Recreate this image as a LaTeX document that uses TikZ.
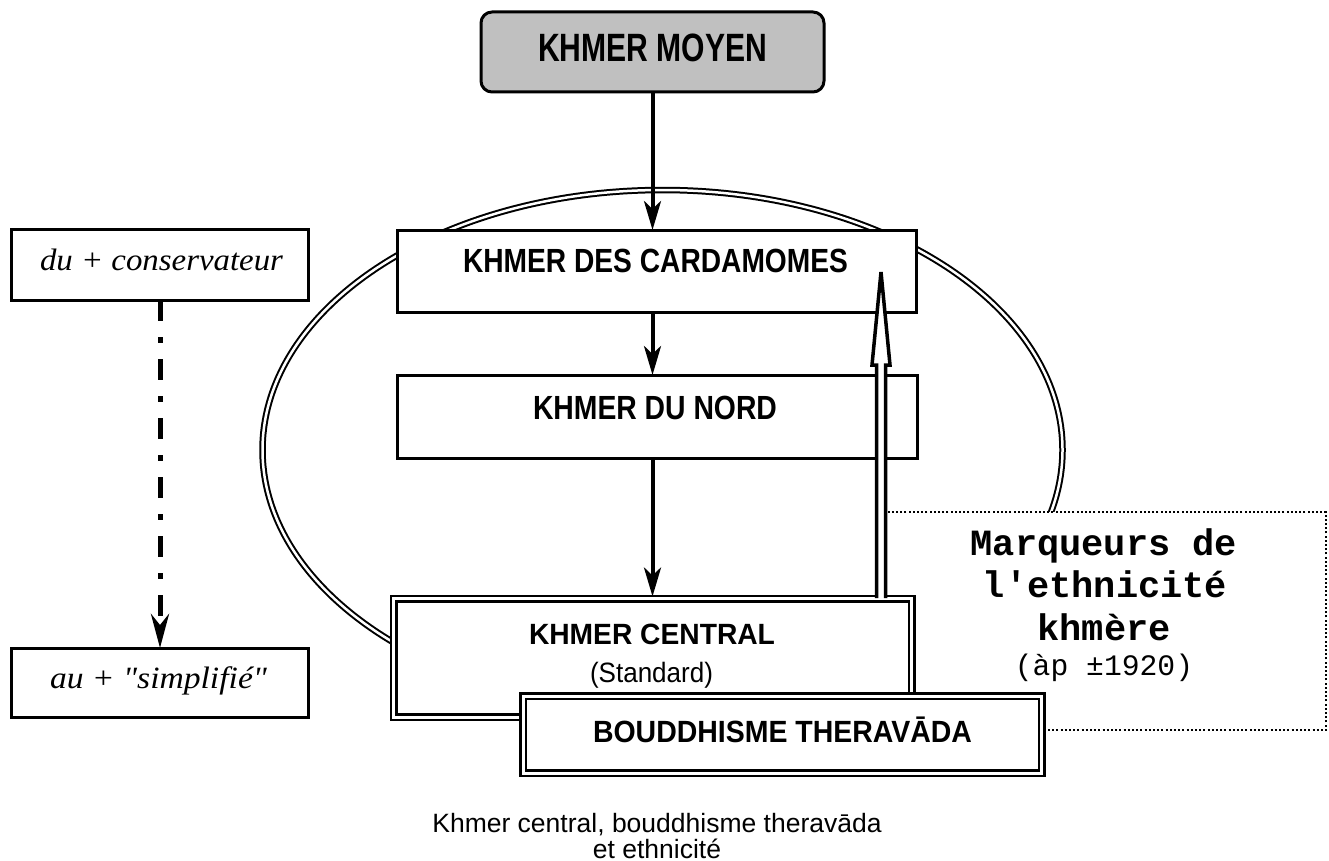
\documentclass[tikz,border=0pt]{standalone}
\usepackage{fontspec}
\setmainfont{Liberation Sans}
\newfontfamily\tnr{Liberation Serif}
\newfontfamily\cour{Liberation Mono}
\usepackage{graphicx}
\usetikzlibrary{arrows.meta}
\newsavebox\fbx
\newcommand\fitw[3]{\sbox\fbx{\fontsize{#2}{#2}\selectfont #3}\pgfmathsetmacro\fsx{#1/\the\wd\fbx}\scalebox{\fsx}[1]{\usebox\fbx}}
\definecolor{boxgray}{HTML}{C0C0C0}
\begin{document}
\begin{tikzpicture}[x=1pt,y=-1pt,
  plainbox/.style={draw, line width=3pt, fill=white, inner sep=0pt, outer sep=0pt},
  dblbox/.style={draw, line width=2.5pt, double, double distance=3pt, fill=white, inner sep=0pt, outer sep=0pt},
  flow/.style={line width=4pt, -{Stealth[length=29pt,width=17pt,inset=8pt]}},
  lbl/.style={anchor=base, inner sep=0pt},
]
\useasboundingbox (0,0) rectangle (1329,861);

% ellipse (behind everything)
\draw[line width=2pt, double, double distance=2.5pt] (662.5,450) ellipse [x radius=400pt, y radius=260pt];

% dotted box
\node[draw, line width=2pt, dash pattern=on 2pt off 2.2pt, fill=white, inner sep=0pt,
      minimum width=446pt, minimum height=218pt] (mbox) at (1103,621) {};

% boxes
\node[draw, line width=3pt, fill=boxgray, rounded corners=11pt, inner sep=0pt,
      minimum width=343pt, minimum height=80pt] (moyen) at (652.5,52) {};
\node[plainbox, minimum width=519pt, minimum height=82pt] (card) at (656.5,271) {};
\node[plainbox, minimum width=520pt, minimum height=83pt] (nord) at (657,416.5) {};
\node[dblbox, minimum width=518pt, minimum height=118.5pt] (central) at (652.5,657.75) {};
\node[dblbox, minimum width=518.5pt, minimum height=77pt] (boud) at (782.25,734.5) {};
\node[plainbox, minimum width=297pt, minimum height=71pt] (du) at (160,264.5) {};
\node[plainbox, minimum width=297pt, minimum height=69pt] (au) at (160,682.5) {};

% labels
\node[lbl] (tmoyen) at (652.5,62) {\bfseries\fitw{229}{39.5}{KHMER MOYEN}};
\node[lbl] (tcard) at (655.5,272) {\bfseries\fitw{385}{33.5}{KHMER DES CARDAMOMES}};
\node[lbl] (tnord) at (655,419) {\bfseries\fitw{244}{33.5}{KHMER DU NORD}};
\node[lbl] (tcentral) at (652,644) {\bfseries\fitw{246}{29.3}{KHMER CENTRAL}};
\node[lbl] (tstd) at (651.5,682) {\fitw{123}{28}{(Standard)}};
\node[lbl] (tboud) at (782.5,742) {\bfseries\fitw{379}{30.7}{BOUDDHISME THERAVĀDA}};
\node[lbl] (tdu) at (161.5,270) {\tnr\itshape\fitw{243}{31}{du + conservateur}};
\node[lbl] (tau) at (158.5,688) {\tnr\itshape\fitw{217}{31}{au + "simplifié"}};
\node[lbl] (mk1) at (1104,555) {\cour\bfseries\fontsize{37}{37}\selectfont Marqueurs de};
\node[lbl] (mk2) at (1105,597) {\cour\bfseries\fontsize{37}{37}\selectfont l'ethnicité};
\node[lbl] (mk3) at (1104,640) {\cour\bfseries\fontsize{37}{37}\selectfont khmère};
\node[lbl] (mk4) at (1104,675) {\cour\fontsize{29.7}{29.7}\selectfont (àp ±1920)};
\node[lbl] (cap1) at (657,832) {\fontsize{26.5}{26.5}\selectfont Khmer central, bouddhisme theravāda};
\node[lbl] (cap2) at (657,858) {\fontsize{26.5}{26.5}\selectfont et ethnicité};

% connectors
\draw[flow] (moyen.south) -- (moyen.south |- card.north);
\draw[flow] (card.south -| moyen.south) -- (nord.north -| moyen.south);
\draw[flow] (nord.south -| moyen.south) -- ([yshift=2pt]central.north -| moyen.south);
\draw[line width=5pt, dash pattern=on 21pt off 16pt on 6pt off 16pt,
      -{Stealth[length=34pt,width=18pt,inset=11pt]}] (du.south) -- (au.north);

% hollow arrow
\coordinate (hb) at (881,598);
\coordinate (ht) at (881,272);
\draw[line width=3.5pt, fill=white, line join=miter]
  ([xshift=-4.5pt]hb) -- ([xshift=-4.5pt,yshift=233pt]hb) -- ([xshift=-9pt,yshift=233pt]hb)
  -- (ht) -- ([xshift=9pt,yshift=233pt]hb) -- ([xshift=4.5pt,yshift=233pt]hb) -- ([xshift=4.5pt]hb);
\end{tikzpicture}
\end{document}
